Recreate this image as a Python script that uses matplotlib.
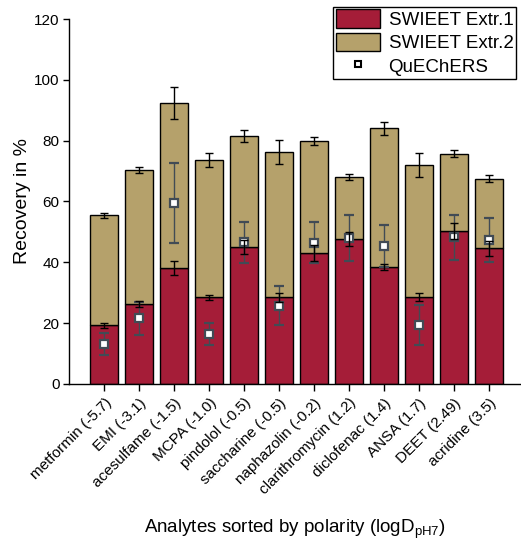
import matplotlib
matplotlib.use('Agg')
import matplotlib.pyplot as plt
import matplotlib.transforms as mtransforms
from matplotlib.lines import Line2D
from matplotlib.patches import Patch
import numpy as np

plt.rcParams['font.family'] = ['Liberation Sans', 'DejaVu Sans']

# analytes with logD(pH7)
analytes = ['metformin (-5.7)', 'EMI (-3.1)', 'acesulfame (-1.5)', 'MCPA (-1.0)',
            'pindolol (-0.5)', 'saccharine (-0.5)', 'naphazolin (-0.2)',
            'clarithromycin (1.2)', 'diclofenac (1.4)', 'ANSA (1.7)',
            'DEET (2.49)', 'acridine (3.5)']

# recovery of first extraction
extr1 = [19.3, 26.2, 38.0, 28.5, 45.0, 28.5, 43.1, 47.6, 38.4, 28.6, 50.2, 44.6]
extr1_err = [0.8, 1.0, 2.3, 0.8, 2.2, 1.4, 2.5, 2.3, 0.9, 1.2, 2.6, 2.5]
# cumulative recovery after second extraction
total = [55.5, 70.4, 92.3, 73.6, 81.5, 76.3, 79.8, 68.0, 84.1, 71.9, 75.7, 67.5]
total_err = [0.8, 1.1, 5.3, 2.3, 2.0, 4.0, 1.3, 0.9, 2.2, 3.9, 1.1, 1.1]
# QuEChERS reference
quechers = [13.0, 21.6, 59.6, 16.5, 46.6, 25.8, 46.5, 47.9, 45.3, 19.5, 48.3, 47.4]
quechers_err = [3.6, 5.5, 13.1, 3.7, 6.8, 6.3, 6.8, 7.5, 7.0, 6.6, 7.4, 7.2]

extr2 = [t - e for t, e in zip(total, extr1)]

red = '#a51d38'
tan = '#b5a16b'
grey = '#414b55'

fig = plt.figure(figsize=(5.21, 5.48), dpi=100)
ax = fig.add_axes([0.133, 0.2993, 0.867, 0.666])

x = np.arange(len(analytes))
w = 0.81
ax.bar(x, extr1, w, color=red, edgecolor='black', linewidth=1, zorder=2)
ax.bar(x, extr2, w, bottom=extr1, color=tan, edgecolor='black', linewidth=1, zorder=2)

ax.errorbar(x, quechers, yerr=quechers_err, fmt='s', ms=6, mfc='white', mec=grey, mew=1.6,
            ecolor=grey, elinewidth=1, capsize=3.5, capthick=1, zorder=3)
ax.errorbar(x, extr1, yerr=extr1_err, fmt='none', ecolor='black', elinewidth=1,
            capsize=3, capthick=1, zorder=4)
ax.errorbar(x, total, yerr=total_err, fmt='none', ecolor='black', elinewidth=1,
            capsize=3, capthick=1, zorder=4)

ax.set_xlim(-1, 11.906)
ax.set_ylim(0, 120)
ax.set_yticks(range(0, 121, 20))
ax.set_xticks(x)
ax.set_xticklabels(analytes, rotation=45, ha='right', rotation_mode='anchor', fontsize=11)
# shift the rotated labels a bit right/down like the original
offset = mtransforms.ScaledTranslation(6 / 72, -4 / 72, fig.dpi_scale_trans)
for lbl in ax.get_xticklabels():
    lbl.set_transform(lbl.get_transform() + offset)
ax.tick_params(axis='y', labelsize=11, length=4, width=1, pad=3)
ax.tick_params(axis='x', length=5, width=1)

for s in ['top', 'right']:
    ax.spines[s].set_visible(False)
for s in ['left', 'bottom']:
    ax.spines[s].set_linewidth(1)

ax.set_ylabel('Recovery in %', fontsize=14)
ax.yaxis.set_label_coords(-0.085, 0.5)
ax.set_xlabel(r'Analytes sorted by polarity (logD$_{\mathregular{pH7}}$)', fontsize=13.5)
ax.xaxis.set_label_coords(0.5, -0.367)

handles = [Patch(facecolor=red, edgecolor='black', linewidth=1),
           Patch(facecolor=tan, edgecolor='black', linewidth=1),
           Line2D([], [], ls='none', marker='s', ms=5, mfc='white', mec='black', mew=1.5)]
labels = ['SWIEET Extr.1', 'SWIEET Extr.2', 'QuEChERS']
leg = ax.legend(handles, labels, loc='upper right', bbox_to_anchor=(0.9894, 1.034),
                fontsize=13.5, frameon=True, fancybox=False, edgecolor='black', framealpha=1,
                handlelength=2.35, handleheight=1.15, labelspacing=0.2,
                borderpad=0.15, handletextpad=0.45, borderaxespad=0)
leg.get_frame().set_linewidth(1)

fig.savefig('out.png', dpi=100)
